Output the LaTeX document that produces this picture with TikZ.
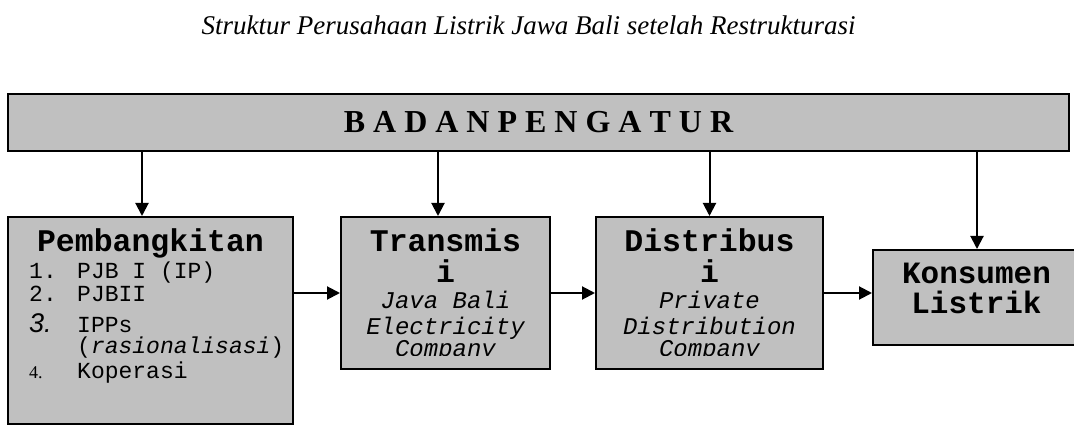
\documentclass[tikz,border=0pt]{standalone}
\usepackage{fontspec}
\setmainfont{Liberation Serif}
\setsansfont{Liberation Sans}
\setmonofont{Liberation Mono}
\usetikzlibrary{arrows.meta, positioning}
\definecolor{boxgray}{RGB}{192, 192, 192}

\begin{document}
\begin{tikzpicture}[x=1pt, y=1pt,
  box/.style={draw, line width=2pt, fill=boxgray, inner sep=0pt},
  head/.style={font=\ttfamily\bfseries\fontsize{31.5}{32}\selectfont, inner sep=0pt, anchor=base},
  sub/.style={font=\ttfamily\itshape\fontsize{24}{25}\selectfont, inner sep=0pt, anchor=base},
  item/.style={font=\ttfamily\fontsize{23}{24}\selectfont, inner sep=0pt, anchor=base west},
  arr/.style={line width=2pt, -{Triangle[length=13pt, width=13pt]}}
]
  \clip (0,0) rectangle (1074,426);
  \node[font=\itshape\fontsize{27}{28}\selectfont, anchor=base] (judul) at (528.5, 391)
    {Struktur Perusahaan Listrik Jawa Bali setelah Restrukturasi};

  % boxes
  \node[box, minimum width=1061, minimum height=57, font=\bfseries\fontsize{32}{33}\selectfont] (pengatur) at (538.5, 303.5)
    {B A D A N P E N G A T U R};
  \node[box, minimum width=285, minimum height=207] (pemb) at (150.5, 105.5) {};
  \node[box, minimum width=209, minimum height=152] (trans) at (445.5, 133) {};
  \node[box, minimum width=227, minimum height=152] (dist) at (709.5, 133) {};
  \node[box, minimum width=205, minimum height=95] (kons) at (975.5, 128.5) {};

  % pembangkitan
  \node[head] (pembH) at ([yshift=-36]pemb.north) {Pembangkitan};
  \node[item] (n1) at ([shift={(22,-63)}]pemb.north west) {1.};
  \node[item] (t1) at ([shift={(70,-63)}]pemb.north west) {PJB I (IP)};
  \node[item] (n2) at ([shift={(22,-86)}]pemb.north west) {2.};
  \node[item] (t2) at ([shift={(70,-86)}]pemb.north west) {PJBII};
  \node[item, font=\sffamily\itshape\fontsize{27}{28}\selectfont] (n3) at ([shift={(22,-117)}]pemb.north west) {3.};
  \node[item] (t3) at ([shift={(70,-117)}]pemb.north west) {IPPs};
  \node[item] (t3b) at ([shift={(70,-138)}]pemb.north west) {(\textit{rasionalisasi})};
  \node[item, font=\rmfamily\fontsize{18}{19}\selectfont] (n4) at ([shift={(22,-162)}]pemb.north west) {4.};
  \node[item] (t4) at ([shift={(70,-162)}]pemb.north west) {Koperasi};

  % transmisi, distribusi
  \node[head] (transH) at ([yshift=-36]trans.north) {Transmis};
  \node[head] (transI) at ([yshift=-67]trans.north) {i};
  \node[head] (distH) at ([yshift=-36]dist.north) {Distribus};
  \node[head] (distI) at ([yshift=-67]dist.north) {i};
  \begin{scope}
    \clip (0,70) rectangle (1074,426);
    \node[sub] (trans1) at ([yshift=-93]trans.north) {Java Bali};
    \node[sub] (trans2) at ([yshift=-118]trans.north) {Electricity};
    \node[sub] (trans3) at ([yshift=-140.5]trans.north) {Company};
    \node[sub] (dist1) at ([yshift=-93]dist.north) {Private};
    \node[sub] (dist2) at ([yshift=-118]dist.north) {Distribution};
    \node[sub] (dist3) at ([yshift=-140.5]dist.north) {Company};
  \end{scope}

  % konsumen
  \node[head, font=\ttfamily\bfseries\fontsize{31}{32}\selectfont] (konsH) at (976.5, 142) {Konsumen};
  \node[head, font=\ttfamily\bfseries\fontsize{31}{32}\selectfont] (konsL) at (976.5, 112) {Listrik};

  % arrows
  \coordinate (pa) at ([xshift=-8.5]pemb.north);
  \coordinate (ta) at ([xshift=-7.5]trans.north);
  \coordinate (da) at (dist.north);
  \coordinate (ka) at ([xshift=1.5]kons.north);
  \draw[arr] (pa |- pengatur.south) -- (pa);
  \draw[arr] (ta |- pengatur.south) -- (ta);
  \draw[arr] (da |- pengatur.south) -- (da);
  \draw[arr] (ka |- pengatur.south) -- (ka);
  \draw[arr] (pemb.east |- trans.west) -- (trans.west);
  \draw[arr] (trans.east) -- (dist.west);
  \draw[arr] (dist.east) -- (dist.east -| kons.west);
\end{tikzpicture}
\end{document}
